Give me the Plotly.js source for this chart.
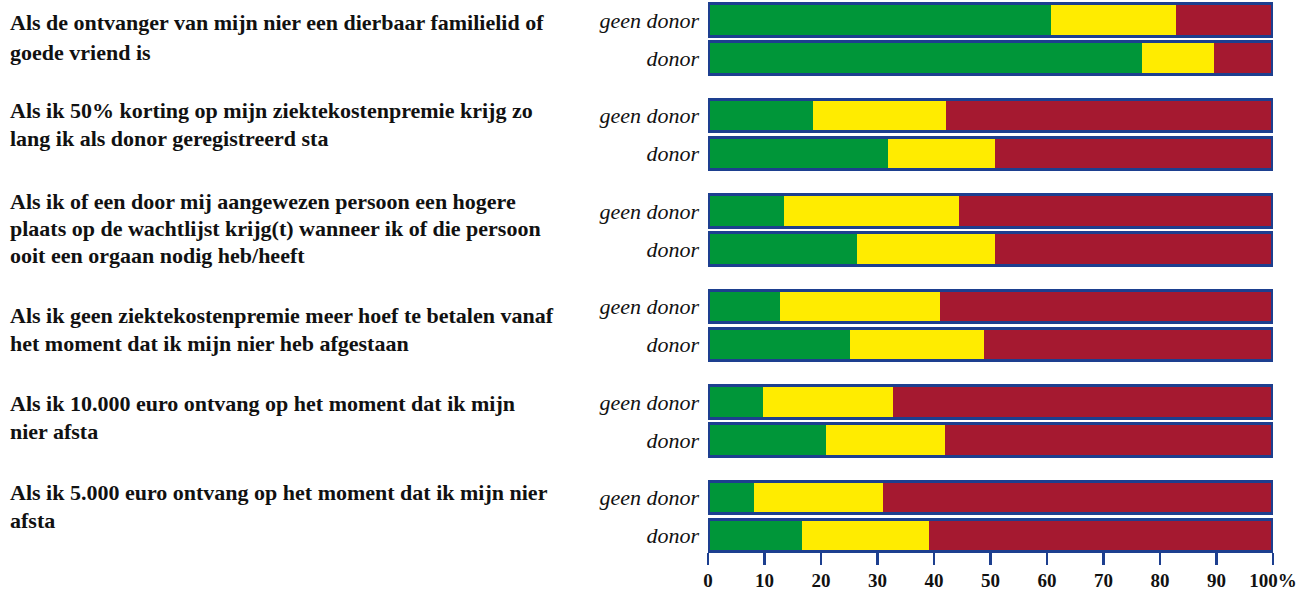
<!DOCTYPE html>
<html>
<head>
<meta charset="utf-8">
<script src="https://cdn.plot.ly/plotly-3.0.1.min.js"></script>
<style>html,body{margin:0;padding:0;background:#fff;}#chart{width:1306px;height:592px;}</style>
</head>
<body>
<div id="chart"></div>
<script>
// Questions (each line of the wrapped label)
const questions = [
  ["Als de ontvanger van mijn nier een dierbaar familielid of", "goede vriend is"],
  ["Als ik 50% korting op mijn ziektekostenpremie krijg zo", "lang ik als donor geregistreerd sta"],
  ["Als ik of een door mij aangewezen persoon een hogere", "plaats op de wachtlijst krijg(t) wanneer ik of die persoon", "ooit een orgaan nodig heb/heeft"],
  ["Als ik geen ziektekostenpremie meer hoef te betalen vanaf", "het moment dat ik mijn nier heb afgestaan"],
  ["Als ik 10.000 euro ontvang op het moment dat ik mijn", "nier afsta"],
  ["Als ik 5.000 euro ontvang op het moment dat ik mijn nier", "afsta"]
];
const subLabels = ["geen donor", "donor"];
// Values per bar (question order, geen donor then donor)
const greenVals  = [60.7, 76.8, 18.5, 31.8, 13.5, 26.3, 12.8, 25.2, 9.8, 20.8, 8.1, 16.7];
const yellowVals = [22.2, 12.8, 23.7, 19.0, 31.0, 24.5, 28.3, 23.7, 23.0, 21.2, 22.9, 22.4];
const redVals    = [17.1, 10.4, 57.8, 49.2, 55.5, 49.2, 58.9, 51.1, 67.2, 58.0, 69.0, 60.9];
const xTickVals  = [0, 10, 20, 30, 40, 50, 60, 70, 80, 90, 100];
const xTickText  = ["0", "10", "20", "30", "40", "50", "60", "70", "80", "90", "100%"];

// layout helpers
const GROUP = 2.513;   // group pitch in bar-pitch units
const BARW = 0.86;
const BLUE = "#1d3f8f";
const SERIF = "Liberation Serif, Times New Roman, serif";
const TEXT_NUDGE = [2, -5, -9, 9, 2, -5];   // px offset of first question line vs "geen donor" row
const LINE_SP = [30, 28, 27, 28, 28, 28];     // px line spacing per question

const yPos = greenVals.map((_, i) => Math.floor(i / 2) * GROUP + (i % 2));
const widths = yPos.map(() => BARW);
const totals = greenVals.map((g, i) => g + yellowVals[i] + redVals[i]);

function seg(name, vals, color) {
  return {
    type: "bar", orientation: "h", name: name,
    x: vals, y: yPos, width: widths,
    marker: { color: color, line: { width: 0 } },
    hoverinfo: "x+name", showlegend: false
  };
}

const traces = [
  seg("ja", greenVals, "#009639"),
  seg("weet niet", yellowVals, "#ffec00"),
  seg("nee", redVals, "#a51930"),
  {
    type: "bar", orientation: "h", name: "rand",
    x: totals, y: yPos, width: widths, xaxis: "x2",
    marker: { color: "rgba(0,0,0,0)", line: { color: BLUE, width: 3.2 } },
    hoverinfo: "skip", showlegend: false
  }
];

const annotations = [];
questions.forEach((lines, g) => {
  const rowY = g * GROUP;
  lines.forEach((txt, i) => {
    annotations.push({
      text: txt, xref: "paper", yref: "y",
      x: -(708 - 8) / 565, y: rowY,
      xanchor: "left", yanchor: "middle",
      yshift: -(TEXT_NUDGE[g] + i * LINE_SP[g]),
      showarrow: false,
      font: { family: SERIF, size: 22, color: "#111", weight: "bold" }
    });
  });
});

const layout = {
  width: 1306, height: 592,
  margin: { l: 708, r: 33, t: 0, b: 42 },
  paper_bgcolor: "#fff", plot_bgcolor: "#fff",
  barmode: "stack", bargap: 0,
  showlegend: false,
  xaxis: {
    range: [0, 100], fixedrange: true,
    tickvals: xTickVals, ticktext: xTickText,
    ticks: "outside", ticklen: 12, tickwidth: 2.5, tickcolor: BLUE,
    showline: true, linecolor: BLUE, linewidth: 2.5,
    showgrid: false, zeroline: false,
    tickfont: { family: SERIF, size: 19, color: "#111", weight: "bold" }
  },
  xaxis2: { range: [0, 100], overlaying: "x", visible: false, fixedrange: true },
  yaxis: {
    range: [(550 - 20) / 38, -20 / 38], fixedrange: true,
    tickvals: yPos, ticktext: yPos.map((_, i) => subLabels[i % 2]),
    ticks: "", showline: false, showgrid: false, zeroline: false,
    ticklabelstandoff: 8,
    tickfont: { family: SERIF, size: 22, color: "#111", style: "italic" }
  },
  annotations: annotations
};

Plotly.newPlot("chart", traces, layout, { displayModeBar: false, staticPlot: true });
</script>
</body>
</html>
